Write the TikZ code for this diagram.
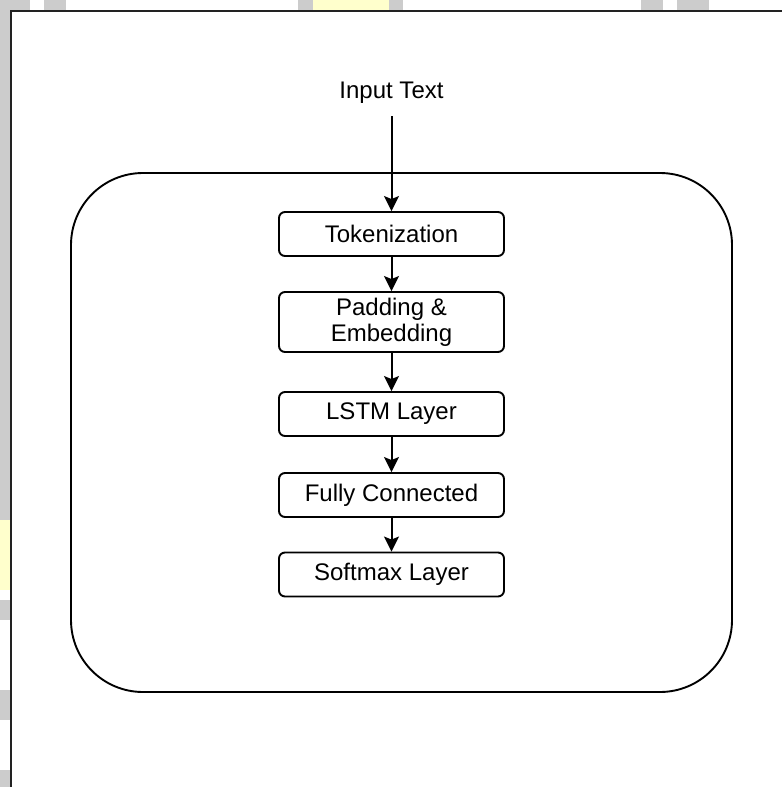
\documentclass[tikz,border=0pt]{standalone}
\usepackage{fontspec}
\setmainfont{Liberation Sans}
\usetikzlibrary{arrows.meta}
\definecolor{framegray}{HTML}{222222}
\definecolor{wmgray}{HTML}{CCCCCC}
\definecolor{wmyellow}{HTML}{FFFFCC}
\begin{document}
\begin{tikzpicture}[x=1pt,y=-1pt,
  stagebox/.style={draw, line width=1.9pt, rounded corners=6pt, minimum width=225pt,
    minimum height=44pt, inner sep=0pt, align=center,
    font=\fontsize{24}{26}\selectfont},
  flow/.style={line width=2pt, -{Stealth[length=15pt,width=15pt,inset=3pt]}},
  wm/.style={fill=wmgray, draw=none},
  wmy/.style={fill=wmyellow, draw=none}]
  \useasboundingbox (0,0) rectangle (782,787);
  % page background marks along the edges
  \fill[wm] (0,0) rectangle (10,520);
  \fill[wmy] (0,520) rectangle (10,590);
  \fill[wm] (0,600) rectangle (10,620);
  \fill[wm] (0,690) rectangle (10,720);
  \fill[wm] (0,770) rectangle (10,787);
  \fill[wm] (0,0) rectangle (30,10);
  \fill[wm] (44,0) rectangle (66,10);
  \fill[wm] (298,0) rectangle (313,10);
  \fill[wmy] (313,0) rectangle (389,10);
  \fill[wm] (389,0) rectangle (403,10);
  \fill[wm] (641,0) rectangle (663,10);
  \fill[wm] (677,0) rectangle (709,10);
  % page frame (left and top edges)
  \draw[framegray, line width=2.6pt] (11,787) -- (11,11) -- (782,11);
  % enclosing model container
  \draw[line width=1.9pt, rounded corners=72pt] (71,173) rectangle (732,692);
  % input label
  \node[font=\fontsize{24}{26}\selectfont] (input) at (391.5,93) {Input Text};
  \coordinate (instart) at (391.5,116);
  % pipeline stages
  \node[stagebox] (tok) at (391.5,234) {Tokenization};
  \node[stagebox, minimum height=60pt] (pad) at (391.5,322) {Padding \&\\Embedding};
  \node[stagebox] (lstm) at (391.5,414) {LSTM Layer};
  \node[stagebox] (fc) at (391.5,495) {Fully Connected};
  \node[stagebox] (soft) at (391.5,574.5) {Softmax Layer};
  % connectors
  \draw[flow] (instart) -- (tok.north);
  \draw[flow] (tok.south) -- (pad.north);
  \draw[flow] (pad.south) -- (lstm.north);
  \draw[flow] (lstm.south) -- (fc.north);
  \draw[flow] (fc.south) -- (soft.north);
\end{tikzpicture}
\end{document}
